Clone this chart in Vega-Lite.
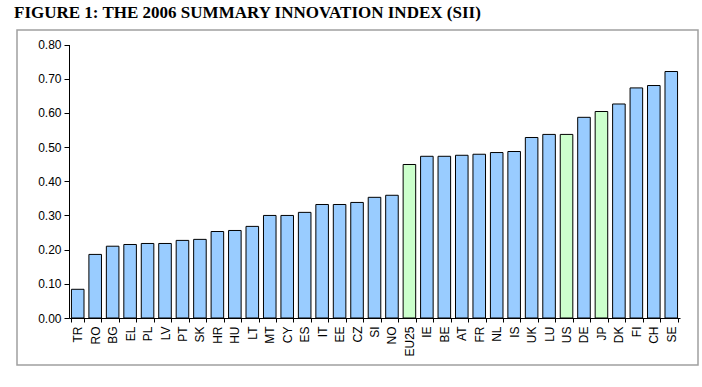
{
  "$schema": "https://vega.github.io/schema/vega-lite/v6.json",
  "width": 681,
  "height": 335,
  "padding": {"left": 11, "top": 4, "right": 10, "bottom": 19},
  "background": "#ffffff",
  "title": {
    "text": "FIGURE 1: THE 2006 SUMMARY INNOVATION INDEX (SII)",
    "font": "Liberation Serif",
    "fontSize": 17,
    "fontWeight": "bold",
    "color": "#000000",
    "anchor": "start",
    "frame": "group",
    "dx": -3,
    "offset": 8
  },
  "config": {
    "view": {"stroke": "#a0a0a0", "strokeWidth": 1.5},
    "axis": {
      "labelFont": "Liberation Sans",
      "labelFontSize": 12,
      "labelColor": "#000000",
      "domainColor": "#000000",
      "tickColor": "#000000",
      "grid": false,
      "title": null
    }
  },
  "data": {
    "values": [
      {"country": "TR", "sii": 0.084, "group": "country"},
      {"country": "RO", "sii": 0.186, "group": "country"},
      {"country": "BG", "sii": 0.21, "group": "country"},
      {"country": "EL", "sii": 0.215, "group": "country"},
      {"country": "PL", "sii": 0.218, "group": "country"},
      {"country": "LV", "sii": 0.218, "group": "country"},
      {"country": "PT", "sii": 0.227, "group": "country"},
      {"country": "SK", "sii": 0.23, "group": "country"},
      {"country": "HR", "sii": 0.253, "group": "country"},
      {"country": "HU", "sii": 0.256, "group": "country"},
      {"country": "LT", "sii": 0.268, "group": "country"},
      {"country": "MT", "sii": 0.30, "group": "country"},
      {"country": "CY", "sii": 0.30, "group": "country"},
      {"country": "ES", "sii": 0.309, "group": "country"},
      {"country": "IT", "sii": 0.332, "group": "country"},
      {"country": "EE", "sii": 0.332, "group": "country"},
      {"country": "CZ", "sii": 0.338, "group": "country"},
      {"country": "SI", "sii": 0.353, "group": "country"},
      {"country": "NO", "sii": 0.359, "group": "country"},
      {"country": "EU25", "sii": 0.449, "group": "benchmark"},
      {"country": "IE", "sii": 0.473, "group": "country"},
      {"country": "BE", "sii": 0.473, "group": "country"},
      {"country": "AT", "sii": 0.476, "group": "country"},
      {"country": "FR", "sii": 0.479, "group": "country"},
      {"country": "NL", "sii": 0.484, "group": "country"},
      {"country": "IS", "sii": 0.487, "group": "country"},
      {"country": "UK", "sii": 0.528, "group": "country"},
      {"country": "LU", "sii": 0.537, "group": "country"},
      {"country": "US", "sii": 0.537, "group": "benchmark"},
      {"country": "DE", "sii": 0.587, "group": "country"},
      {"country": "JP", "sii": 0.604, "group": "benchmark"},
      {"country": "DK", "sii": 0.626, "group": "country"},
      {"country": "FI", "sii": 0.673, "group": "country"},
      {"country": "CH", "sii": 0.68, "group": "country"},
      {"country": "SE", "sii": 0.721, "group": "country"}
    ]
  },
  "mark": {"type": "bar", "stroke": "#000000", "strokeWidth": 1},
  "encoding": {
    "x": {
      "field": "country",
      "type": "nominal",
      "sort": null,
      "scale": {"range": [52, 663], "paddingInner": 0.28, "paddingOuter": 0.14},
      "axis": {"labelAngle": -90, "offset": -47, "tickBand": "extent", "tickSize": 4, "labelPadding": 4}
    },
    "y": {
      "field": "sii",
      "type": "quantitative",
      "scale": {"domain": [0, 0.8], "range": [288, 14.5], "nice": false},
      "axis": {"format": ".2f", "values": [0, 0.1, 0.2, 0.3, 0.4, 0.5, 0.6, 0.7, 0.8], "offset": -52, "tickSize": 5, "labelPadding": 3}
    },
    "color": {
      "field": "group",
      "type": "nominal",
      "scale": {"domain": ["country", "benchmark"], "range": ["#99ccff", "#ccffcc"]},
      "legend": null
    }
  }
}
